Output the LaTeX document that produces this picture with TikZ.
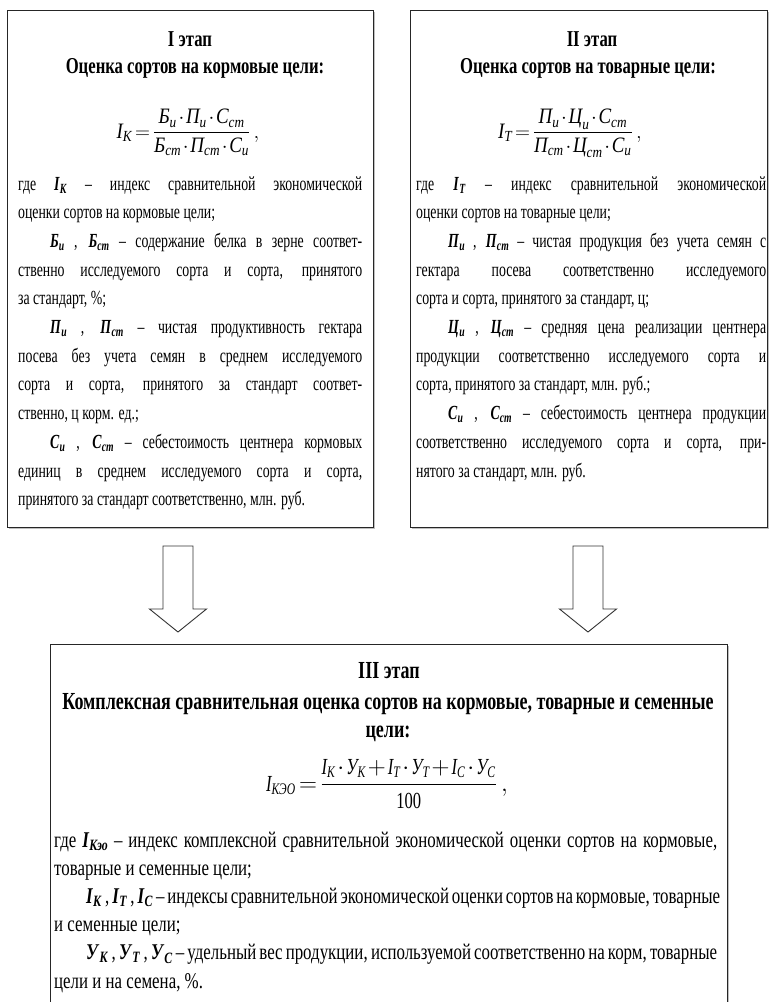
\documentclass[tikz,border=0pt]{standalone}
\usepackage{amsmath}
\usepackage{fontspec}
\setmainfont{Liberation Serif}[FakeStretch=0.75]
\newfontfamily\bodyA{Liberation Serif}[FakeStretch=0.69]
\newfontfamily\ttlfont{Liberation Serif}[FakeStretch=0.735]
\newfontfamily\mfont{Liberation Serif}[FakeStretch=0.86]
\newfontfamily\mfontb{Liberation Serif}[FakeStretch=0.72]
\usetikzlibrary{shadows,calc}
\newlength\tw
\newcommand\jline[1]{\hbox to \tw{#1}}
\newcommand\lline[1]{\hbox to \tw{#1\hfil}}
\newcommand\bsx[2]{\textbf{\textit{#1}}\textsubscript{\textbf{\textit{#2}}}}
\newcommand\iv[1]{\text{\itshape #1}}
\newcommand\ind{\kern32pt}
\newcommand\tightmath{\medmuskip=1.5mu\thickmuskip=2.5mu}
\begin{document}
\begin{tikzpicture}[x=1pt,y=1pt,
  box/.style={draw=black!85, line width=1pt, fill=white, inner sep=0pt, anchor=north west,
    drop shadow={shadow xshift=1.3pt, shadow yshift=-1.3pt, fill=black!50}},
  blockarrow/.style={draw=black!80, line width=0.9pt, fill=white, line join=miter},
  ttl/.style={anchor=base, inner sep=0pt, font=\ttlfont\fontsize{22.7}{27}\selectfont\bfseries},
  ttlb/.style={anchor=base, inner sep=0pt, font=\ttlfont\fontsize{24.5}{29}\selectfont\bfseries},
  body/.style={anchor=base west, inner sep=0pt, font=\bodyA\fontsize{20}{28.7}\selectfont},
  bodyb/.style={anchor=base west, inner sep=0pt, font=\fontsize{22.5}{28.2}\selectfont},
  frm/.style={anchor=base, inner sep=0pt, font=\mfont\fontsize{22}{26}\selectfont\tightmath},
  frmb/.style={anchor=base, inner sep=0pt, font=\mfontb\fontsize{23}{28}\selectfont\tightmath}]
\useasboundingbox (0,0) rectangle (771,-1002);
\clip (0,0) rectangle (771,-1002);

% boxes
\node[box, minimum width=366pt, minimum height=517pt] (b1) at (7,-10) {};
\node[box, minimum width=357pt, minimum height=517pt] (b2) at (410,-10) {};
\node[box, minimum width=677pt, minimum height=420pt] (b3) at (50,-644) {};

% arrows
\coordinate (a1x) at (178,0);
\coordinate (a2x) at (588,0);
\draw[blockarrow] let \p1=($(b1.south -| a1x)+(0,-18)$), \p2=($(b3.north -| a1x)+(0,12)$) in
  (\x1-15,\y1) -- (\x1+15,\y1) -- (\x1+15,\y2+23) -- (\x1+28.5,\y2+23) -- (\x2,\y2)
  -- (\x1-28.5,\y2+23) -- (\x1-15,\y2+23) -- cycle;
\draw[blockarrow] let \p1=($(b2.south -| a2x)+(0,-18)$), \p2=($(b3.north -| a2x)+(0,12)$) in
  (\x1-15,\y1) -- (\x1+15,\y1) -- (\x1+15,\y2+23) -- (\x1+28.5,\y2+23) -- (\x2,\y2)
  -- (\x1-28.5,\y2+23) -- (\x1-15,\y2+23) -- cycle;

% box 1
\node[ttl] (h1a) at (190,-46) {I этап};
\node[ttl] (h1b) at (195,-73) {Оценка сортов на кормовые цели:};
\node[frm] (f1) at (188,-138) {$\displaystyle \iv{I}_{\iv{К}}=\frac{\iv{Б}_{\iv{и}}\cdot\iv{П}_{\iv{и}}\cdot\iv{С}_{\iv{ст}}}{\iv{Б}_{\iv{ст}}\cdot\iv{П}_{\iv{ст}}\cdot\iv{С}_{\iv{и}}}\,,$};
\node[body] (t1) at (18,-190) {\setlength\tw{344pt}\vtop{%
\jline{где \bsx{I}{К} – индекс сравнительной экономической}
\lline{оценки сортов на кормовые цели;}
\jline{\ind\bsx{Б}{и} , \bsx{Б}{ст} – содержание белка в зерне соответ-}
\jline{ственно исследуемого сорта и сорта, принятого}
\lline{за стандарт, \%;}
\jline{\ind\bsx{П}{и} , \bsx{П}{ст} – чистая продуктивность гектара}
\jline{посева без учета семян в среднем исследуемого}
\jline{сорта и сорта, принятого за стандарт соответ-}
\lline{ственно, ц корм. ед.;}
\jline{\ind\bsx{С}{и} , \bsx{С}{ст} – себестоимость центнера кормовых}
\jline{единиц в среднем исследуемого сорта и сорта,}
\lline{принятого за стандарт соответственно, млн. руб.}}};

% box 2
\node[ttl] (h2a) at (592,-46) {II этап};
\node[ttl] (h2b) at (588,-73) {Оценка сортов на товарные цели:};
\node[frm] (f2) at (570,-138) {$\displaystyle \iv{I}_{\iv{Т}}=\frac{\iv{П}_{\iv{и}}\cdot\iv{Ц}_{\iv{и}}\cdot\iv{С}_{\iv{ст}}}{\iv{П}_{\iv{ст}}\cdot\iv{Ц}_{\iv{ст}}\cdot\iv{С}_{\iv{и}}}\,,$};
\node[body] (t2) at (416,-190) {\setlength\tw{350pt}\vtop{%
\jline{где \bsx{I}{Т} – индекс сравнительной экономической}
\lline{оценки сортов на товарные цели;}
\jline{\ind\bsx{П}{и} , \bsx{П}{ст} – чистая продукция без учета семян с}
\jline{гектара посева соответственно исследуемого}
\lline{сорта и сорта, принятого за стандарт, ц;}
\jline{\ind\bsx{Ц}{и} , \bsx{Ц}{ст} – средняя цена реализации центнера}
\jline{продукции соответственно исследуемого сорта и}
\lline{сорта, принятого за стандарт, млн. руб.;}
\jline{\ind\bsx{С}{и} , \bsx{С}{ст} – себестоимость центнера продукции}
\jline{соответственно исследуемого сорта и сорта, при-}
\lline{нятого за стандарт, млн. руб.}}};

% box 3
\node[ttlb] (h3a) at (389,-678) {III этап};
\node[ttlb] (h3b) at (388,-709) {Комплексная сравнительная оценка сортов на кормовые, товарные и семенные};
\node[ttlb] (h3c) at (388,-737) {цели:};
\node[frmb] (f3) at (387,-791) {$\displaystyle \iv{I}_{\iv{КЭО}}=\frac{\iv{I}_{\iv{К}}\cdot\iv{У}_{\iv{К}}+\iv{I}_{\iv{Т}}\cdot\iv{У}_{\iv{Т}}+\iv{I}_{\iv{С}}\cdot\iv{У}_{\iv{С}}}{\text{100}}\,,$};
\node[bodyb] (t3) at (54,-847) {\setlength\tw{663pt}\vtop{%
\jline{где \bsx{I}{Кэо} – индекс комплексной сравнительной экономической оценки сортов на кормовые,}
\lline{товарные и семенные цели;}
\jline{\ind\bsx{I}{К} , \bsx{I}{Т} , \bsx{I}{С} – индексы сравнительной экономической оценки сортов на кормовые, товарные}
\lline{и семенные цели;}
\jline{\ind\bsx{У}{К} , \bsx{У}{Т} , \bsx{У}{С} – удельный вес продукции, используемой соответственно на корм, товарные}
\lline{цели и на семена, \%.}}};
\end{tikzpicture}
\end{document}
